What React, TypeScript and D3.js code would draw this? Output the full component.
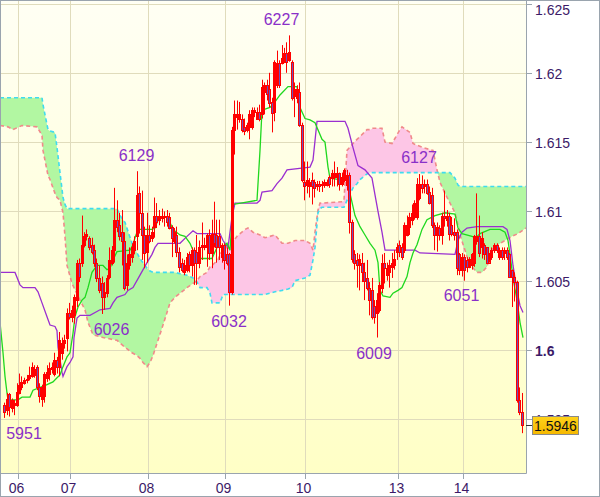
import React from 'react';
import * as d3 from 'd3';

// ---------- DATA ----------
const opens = [
1.5960,1.5957,1.5968,1.5958,1.5960,1.5960,1.5969,1.5973,1.5976,1.5978,
1.5980,1.5981,1.5982,1.5988,1.5973,1.5965,1.5967,1.5980,1.5983,1.5986,
1.5983,1.5993,1.5988,1.5998,1.6005,1.6009,1.6027,1.6024,1.6025,1.6036,
1.6063,1.6063,1.6076,1.6082,1.6081,1.6076,1.6072,1.6063,1.6052,1.6048,
1.6038,1.6041,1.6053,1.6063,1.6072,1.6094,1.6090,1.6085,1.6079,1.6047,
1.6061,1.6067,1.6072,1.6082,1.6113,1.6099,1.6083,1.6071,1.6083,1.6081,
1.6089,1.6097,1.6094,1.6095,1.6096,1.6097,1.6096,1.6089,1.6079,1.6083,
1.6071,1.6063,1.6056,1.6058,1.6069,1.6061,1.6072,1.6071,1.6063,1.6074,
1.6074,1.6074,1.6083,1.6070,1.6084,1.6083,1.6082,1.6067,1.6076,1.6069,
1.6069,1.6042,1.6159,1.6168,1.6167,1.6167,1.6161,1.6159,1.6161,1.6161,
1.6172,1.6167,1.6172,1.6170,1.6186,1.6191,1.6188,1.6179,1.6172,1.6191,
1.6207,1.6207,1.6209,1.6214,1.6209,1.6208,1.6183,1.6182,1.6186,1.6162,
1.6121,1.6119,1.6118,1.6123,1.6121,1.6118,1.6120,1.6119,1.6119,1.6119,
1.6125,1.6124,1.6125,1.6125,1.6128,1.6120,1.6123,1.6119,1.6126,1.6092,
1.6069,1.6065,1.6061,1.6063,1.6056,1.6052,1.6045,1.6043,1.6032,1.6027,
1.6029,1.6045,1.6063,1.6054,1.6056,1.6060,1.6061,1.6071,1.6076,1.6074,
1.6072,1.6083,1.6089,1.6094,1.6096,1.6096,1.6110,1.6120,1.6118,1.6120,
1.6114,1.6112,1.6090,1.6083,1.6088,1.6083,1.6097,1.6094,1.6097,1.6090,
1.6085,1.6085,1.6069,1.6058,1.6067,1.6065,1.6060,1.6061,1.6063,1.6079,
1.6082,1.6074,1.6076,1.6074,1.6063,1.6067,1.6072,1.6076,1.6067,1.6072,
1.6070,1.6072,1.6069,1.6058,1.6053,1.6049,1.5964,1.5955];

const highs = [
1.5962,1.5969,1.5969,1.5965,1.5964,1.5976,1.5983,1.5981,1.5980,1.5982,
1.5988,1.5991,1.5989,1.5989,1.5976,1.5975,1.5984,1.5989,1.5991,1.5991,
1.5998,1.5995,1.6013,1.6009,1.6011,1.6030,1.6034,1.6032,1.6040,1.6065,
1.6066,1.6097,1.6085,1.6087,1.6082,1.6081,1.6076,1.6066,1.6061,1.6053,
1.6049,1.6054,1.6074,1.6075,1.6117,1.6108,1.6099,1.6101,1.6085,1.6069,
1.6074,1.6077,1.6082,1.6129,1.6118,1.6115,1.6089,1.6099,1.6090,1.6089,
1.6110,1.6106,1.6101,1.6102,1.6100,1.6101,1.6099,1.6090,1.6088,1.6089,
1.6074,1.6066,1.6065,1.6070,1.6071,1.6074,1.6074,1.6083,1.6079,1.6092,
1.6081,1.6084,1.6087,1.6094,1.6107,1.6094,1.6094,1.6077,1.6077,1.6074,
1.6070,1.6161,1.6180,1.6180,1.6179,1.6170,1.6167,1.6164,1.6173,1.6175,
1.6175,1.6175,1.6177,1.6195,1.6193,1.6195,1.6200,1.6182,1.6209,1.6216,
1.6209,1.6220,1.6218,1.6222,1.6227,1.6209,1.6193,1.6191,1.6193,1.6164,
1.6136,1.6136,1.6124,1.6128,1.6123,1.6122,1.6122,1.6122,1.6123,1.6123,
1.6126,1.6130,1.6136,1.6132,1.6128,1.6128,1.6131,1.6130,1.6128,1.6094,
1.6072,1.6070,1.6069,1.6070,1.6063,1.6065,1.6049,1.6052,1.6036,1.6041,
1.6049,1.6069,1.6070,1.6063,1.6065,1.6070,1.6072,1.6077,1.6079,1.6077,
1.6092,1.6097,1.6099,1.6105,1.6108,1.6124,1.6127,1.6126,1.6123,1.6123,
1.6118,1.6117,1.6092,1.6092,1.6090,1.6099,1.6115,1.6101,1.6099,1.6096,
1.6095,1.6087,1.6070,1.6070,1.6069,1.6067,1.6067,1.6070,1.6083,1.6113,
1.6097,1.6085,1.6077,1.6074,1.6070,1.6074,1.6077,1.6077,1.6074,1.6074,
1.6074,1.6074,1.6070,1.6058,1.6056,1.6050,1.5973,1.5969];

const lows = [
1.5951,1.5953,1.5952,1.5955,1.5953,1.5959,1.5968,1.5971,1.5975,1.5976,
1.5978,1.5980,1.5980,1.5971,1.5962,1.5959,1.5962,1.5977,1.5978,1.5983,
1.5981,1.5983,1.5981,1.5993,1.6001,1.5999,1.6022,1.6020,1.6019,1.6031,
1.6049,1.6060,1.6074,1.6079,1.6072,1.6069,1.6060,1.6049,1.6041,1.6026,
1.6029,1.6038,1.6051,1.6061,1.6063,1.6085,1.6079,1.6061,1.6043,1.6043,
1.6058,1.6063,1.6069,1.6072,1.6084,1.6065,1.6059,1.6063,1.6077,1.6078,
1.6081,1.6088,1.6090,1.6092,1.6089,1.6089,1.6087,1.6067,1.6077,1.6067,
1.6056,1.6056,1.6054,1.6056,1.6056,1.6053,1.6047,1.6047,1.6059,1.6065,
1.6072,1.6060,1.6065,1.6059,1.6074,1.6063,1.6065,1.6063,1.6058,1.6061,
1.6032,1.6040,1.6141,1.6159,1.6164,1.6157,1.6155,1.6157,1.6152,1.6159,
1.6168,1.6166,1.6165,1.6167,1.6170,1.6180,1.6175,1.6157,1.6165,1.6189,
1.6189,1.6206,1.6207,1.6200,1.6208,1.6180,1.6168,1.6178,1.6161,1.6121,
1.6108,1.6113,1.6110,1.6105,1.6110,1.6115,1.6114,1.6114,1.6117,1.6118,
1.6117,1.6118,1.6118,1.6118,1.6115,1.6118,1.6121,1.6115,1.6084,1.6063,
1.6058,1.6045,1.6043,1.6049,1.6036,1.6043,1.6025,1.6022,1.6019,1.6009,
1.6027,1.6041,1.6048,1.6050,1.6045,1.6052,1.6058,1.6065,1.6067,1.6065,
1.6070,1.6082,1.6083,1.6090,1.6094,1.6094,1.6108,1.6113,1.6113,1.6112,
1.6105,1.6088,1.6072,1.6071,1.6079,1.6076,1.6089,1.6089,1.6079,1.6082,
1.6079,1.6054,1.6054,1.6053,1.6050,1.6056,1.6059,1.6058,1.6060,1.6076,
1.6067,1.6066,1.6065,1.6063,1.6063,1.6065,1.6070,1.6070,1.6065,1.6065,
1.6065,1.6065,1.6052,1.6031,1.6035,1.5962,1.5953,1.5940];

const closes = [
1.5955,1.5965,1.5959,1.5964,1.5962,1.5970,1.5975,1.5977,1.5978,1.5979,
1.5982,1.5988,1.5986,1.5973,1.5967,1.5973,1.5983,1.5984,1.5987,1.5988,
1.5993,1.5988,1.6007,1.6005,1.6007,1.6027,1.6024,1.6029,1.6038,1.6063,
1.6053,1.6076,1.6082,1.6084,1.6074,1.6071,1.6063,1.6052,1.6043,1.6038,
1.6042,1.6052,1.6065,1.6072,1.6094,1.6089,1.6082,1.6079,1.6045,1.6063,
1.6069,1.6074,1.6079,1.6112,1.6099,1.6083,1.6070,1.6083,1.6079,1.6085,
1.6097,1.6092,1.6097,1.6097,1.6097,1.6092,1.6088,1.6081,1.6085,1.6071,
1.6060,1.6058,1.6061,1.6067,1.6061,1.6072,1.6063,1.6063,1.6074,1.6076,
1.6076,1.6083,1.6070,1.6084,1.6077,1.6074,1.6074,1.6076,1.6065,1.6063,
1.6042,1.6159,1.6170,1.6170,1.6170,1.6159,1.6158,1.6162,1.6170,1.6173,
1.6173,1.6172,1.6167,1.6190,1.6191,1.6185,1.6178,1.6171,1.6208,1.6207,
1.6191,1.6211,1.6214,1.6208,1.6215,1.6182,1.6188,1.6188,1.6162,1.6123,
1.6118,1.6123,1.6121,1.6118,1.6117,1.6120,1.6118,1.6120,1.6121,1.6121,
1.6120,1.6128,1.6128,1.6128,1.6120,1.6125,1.6130,1.6126,1.6092,1.6066,
1.6063,1.6061,1.6066,1.6056,1.6050,1.6045,1.6036,1.6024,1.6024,1.6036,
1.6047,1.6063,1.6059,1.6059,1.6061,1.6063,1.6066,1.6074,1.6071,1.6067,
1.6090,1.6090,1.6096,1.6099,1.6106,1.6120,1.6120,1.6117,1.6120,1.6113,
1.6106,1.6090,1.6083,1.6089,1.6083,1.6097,1.6095,1.6097,1.6084,1.6084,
1.6083,1.6059,1.6058,1.6067,1.6058,1.6060,1.6066,1.6069,1.6082,1.6082,
1.6070,1.6081,1.6069,1.6063,1.6069,1.6072,1.6076,1.6072,1.6072,1.6067,
1.6072,1.6067,1.6053,1.6053,1.6049,1.5964,1.5955,1.5946];

// [bar index, Senkou Span A, Senkou Span B]
const senkou: [number, number, number][] = [
[-1.6,1.6182,1.6162],[1.6,1.6182,1.6161],[3.6,1.6182,1.6159],[7.2,1.6182,1.6162],[13.2,1.6182,1.6161],
[15.2,1.6182,1.6155],[15.6,1.6177,1.6144],[17.6,1.6159,1.6126],[18.4,1.6158,1.6123],[20.4,1.6157,1.6113],
[21.2,1.6146,1.6110],[22.4,1.6128,1.6108],[23.6,1.6110,1.6099],[24.4,1.6105,1.6082],[25.2,1.6102,1.6061],
[27.2,1.6102,1.6048],[30.4,1.6102,1.6036],[32.4,1.6102,1.6029],[33.6,1.6102,1.6020],[35.6,1.6102,1.6011],
[39.6,1.6102,1.6009],[45.2,1.6102,1.6007],[46.4,1.6097,1.6005],[48.4,1.6092,1.6002],[51.2,1.6077,1.5998],
[53.2,1.6070,1.5996],[54.4,1.6066,1.5994],[55.6,1.6063,1.5991],[57.2,1.6059,1.5988],[58.4,1.6057,1.5991],
[59.6,1.6056,1.5996],[61.6,1.6056,1.6007],[63.6,1.6056,1.6018],[66.4,1.6056,1.6034],[68.4,1.6056,1.6038],
[70.4,1.6055,1.6041],[73.2,1.6054,1.6045],[75.6,1.6052,1.6048],[77.2,1.6049,1.6050],[78.4,1.6045,1.6053],
[81.2,1.6045,1.6056],[82.4,1.6041,1.6060],[83.2,1.6034,1.6061],[85.6,1.6034,1.6065],[86.4,1.6034,1.6069],
[87.6,1.6040,1.6072],[91.2,1.6040,1.6077],[93.2,1.6040,1.6082],[96.4,1.6040,1.6087],[97.6,1.6040,1.6088],
[99.6,1.6040,1.6085],[102.4,1.6040,1.6083],[104.4,1.6040,1.6081],[108.4,1.6042,1.6083],[111.2,1.6043,1.6077],
[113.6,1.6044,1.6077],[115.2,1.6045,1.6078],[116.4,1.6050,1.6079],[120.4,1.6052,1.6079],[122.4,1.6054,1.6077],
[123.6,1.6065,1.6072],[124.4,1.6074,1.6085],[125.6,1.6099,1.6101],[126.4,1.6102,1.6106],[127.2,1.6103,1.6106],
[135.6,1.6103,1.6107],[136,1.6103,1.6108],[137.2,1.6108,1.6144],[139.6,1.6117,1.6149],[141.2,1.6120,1.6152],
[142.4,1.6123,1.6154],[145.2,1.6127,1.6159],[146.4,1.6128,1.6159],[147.6,1.6128,1.6160],[151.2,1.6128,1.6160],
[152.4,1.6128,1.6150],[155.2,1.6128,1.6149],[158.4,1.6128,1.6159],[159.2,1.6128,1.6161],[162.4,1.6128,1.6157],
[163.6,1.6128,1.6149],[167.6,1.6128,1.6146],[171.6,1.6128,1.6144],[173.2,1.6128,1.6130],[174.4,1.6128,1.6121],
[176.4,1.6128,1.6113],[178.4,1.6128,1.6106],[180.4,1.6124,1.6099],[181.6,1.6119,1.6090],[182.4,1.6118,1.6083],
[184.4,1.6118,1.6072],[185.6,1.6118,1.6065],[187.2,1.6118,1.6060],[189.2,1.6118,1.6056],[191.2,1.6118,1.6056],
[193.2,1.6118,1.6060],[194.4,1.6118,1.6069],[195.6,1.6118,1.6074],[197.6,1.6118,1.6076],[200.4,1.6118,1.6079],
[203.2,1.6118,1.6082],[205.6,1.6118,1.6084],[208.8,1.6118,1.6088]];

// [bar index, Tenkan-sen]
const tenkan: [number, number][] = [
[-1.6,1.6020],[-0.4,1.5998],[0.4,1.5981],[1.2,1.5969],[1.6,1.5964],[5.6,1.5964],[7.2,1.5966],[10.4,1.5966],
[11.6,1.5971],[17.2,1.5975],[19.6,1.5977],[21.2,1.5980],[22.4,1.5982],[23.6,1.5988],[25.2,1.5995],[26.4,1.5998],
[27.6,1.6012],[28.4,1.6024],[29.6,1.6031],[31.2,1.6036],[32.4,1.6038],[33.6,1.6045],[35.2,1.6056],[37.2,1.6061],
[39.6,1.6061],[41.2,1.6058],[42.4,1.6059],[43.6,1.6065],[45.2,1.6071],[50.4,1.6072],[51.6,1.6076],[52.4,1.6081],
[53.6,1.6087],[59.2,1.6087],[60.4,1.6088],[61.2,1.6092],[62.4,1.6096],[65.2,1.6096],[66.4,1.6092],[67.6,1.6087],
[70.4,1.6083],[72.4,1.6082],[74.4,1.6077],[75.6,1.6072],[77.2,1.6066],[83.2,1.6066],[85.2,1.6074],[87.6,1.6074],
[89.2,1.6077],[90.4,1.6072],[91.6,1.6105],[101.2,1.6108],[102.4,1.6144],[103.2,1.6173],[106.4,1.6175],[108.4,1.6179],
[110.4,1.6184],[113.6,1.6190],[117.2,1.6190],[118.4,1.6175],[120.4,1.6167],[122.4,1.6166],[124.4,1.6164],[127.2,1.6152],
[128.4,1.6150],[129.6,1.6132],[130.4,1.6124],[134.4,1.6123],[137.2,1.6123],[138.4,1.6113],[140.4,1.6097],[142.4,1.6089],
[144.4,1.6083],[146.4,1.6077],[148.4,1.6072],[149.6,1.6063],[150.4,1.6043],[151.6,1.6039],[154.4,1.6038],[155.6,1.6041],
[157.6,1.6043],[159.2,1.6045],[161.2,1.6053],[162.4,1.6063],[163.6,1.6070],[165.2,1.6076],[167.2,1.6087],[169.2,1.6094],
[172.4,1.6097],[176.4,1.6099],[180.4,1.6098],[181.6,1.6088],[183.2,1.6084],[187.2,1.6082],[188.8,1.6081],[190.4,1.6084],
[194.4,1.6087],[198.4,1.6087],[200.4,1.6085],[201.6,1.6079],[202.4,1.6069],[203.6,1.6052],[205.2,1.6036],[206.4,1.6020],
[207.6,1.6009]];

// [bar index, Kijun-sen]
const kijun: [number, number][] = [
[-1.6,1.6056],[4.4,1.6056],[6.4,1.6047],[7.6,1.6045],[12.4,1.6045],[13.6,1.6042],[15.2,1.6034],[17.2,1.6024],
[18.4,1.6018],[20.4,1.6017],[21.2,1.6014],[21.6,1.6002],[22.4,1.5993],[23.2,1.5984],[23.6,1.5981],[25.2,1.5988],
[26.4,1.5991],[27.6,1.5995],[28.0,1.6009],[29.2,1.6023],[30.4,1.6025],[34.4,1.6025],[38.4,1.6029],[42.4,1.6030],
[43.6,1.6034],[45.2,1.6038],[48.4,1.6040],[49.6,1.6043],[51.6,1.6045],[54.4,1.6054],[57.2,1.6063],[59.2,1.6069],
[60.4,1.6074],[61.6,1.6077],[70.4,1.6077],[73.2,1.6082],[75.6,1.6086],[77.2,1.6084],[86.4,1.6084],[87.6,1.6079],
[89.6,1.6074],[91.2,1.6096],[92.4,1.6106],[101.2,1.6106],[102.4,1.6108],[103.2,1.6114],[107.2,1.6115],[109.2,1.6120],
[111.2,1.6124],[113.2,1.6130],[122.4,1.6132],[123.6,1.6137],[125.2,1.6165],[136.4,1.6165],[137.6,1.6160],[139.6,1.6146],
[141.6,1.6133],[144.4,1.6130],[147.2,1.6124],[148.4,1.6112],[149.6,1.6100],[151.2,1.6085],[152.4,1.6072],[164.4,1.6072],
[166.4,1.6070],[180.4,1.6069],[181.6,1.6079],[183.2,1.6085],[185.2,1.6088],[189.2,1.6089],[199.6,1.6089],[201.2,1.6087],
[202.4,1.6079],[203.6,1.6061],[205.2,1.6043],[206.4,1.6032],[207.6,1.6027]];

const yTicks = [1.595, 1.6, 1.605, 1.61, 1.615, 1.62, 1.625];
const yTickLabels = ['1.595', '1.6', '1.605', '1.61', '1.615', '1.62', '1.625'];
const dayTickIdx = [5.5, 26.5, 57.5, 88.5, 120.5, 157.5, 183.5];
const dayLabels = ['06', '07', '08', '09', '10', '13', '14'];

const annText = ['6227', '6129', '6127', '6026', '6032', '6009', '6051', '5951'];
const annIdx = [111, 53, 166, 43, 90, 148, 183, 8];
const annPrice = [1.6227, 1.6129, 1.6127, 1.6026, 1.6032, 1.6009, 1.6051, 1.5951];
const annAbove = [true, true, true, false, false, false, false, false];
const lastPrice = 1.5946;

// ---------- CHART ----------
const W = 600, H = 497;
const PR = 526, PB = 473;
const FONT = "'Liberation Sans', Arial, sans-serif";
const AXIS_TXT = '#3c1a68';
const FRAME = '#9aa4ae';

type CP = { i: number; a: number; b: number };

export default function App() {
  const x = d3.scaleLinear().domain([0, opens.length - 1]).range([4, 521.5]);
  const y = d3.scaleLinear().domain([1.595, 1.625]).range([419.3, 3.5]);

  const pts: CP[] = [];
  senkou.forEach(([i, a, b], k) => {
    if (k > 0) {
      const [pi, pa, pb] = senkou[k - 1];
      const d0 = pa - pb, d1 = a - b;
      if (d0 * d1 < 0) {
        const t = d0 / (d0 - d1);
        const ca = pa + t * (a - pa);
        pts.push({ i: pi + t * (i - pi), a: ca, b: ca });
      }
    }
    pts.push({ i, a, b });
  });

  const greenArea = d3.area<CP>().x(d => x(d.i)).y0(d => y(d.b)).y1(d => y(Math.max(d.a, d.b)))(pts) || '';
  const pinkArea = d3.area<CP>().x(d => x(d.i)).y0(d => y(d.a)).y1(d => y(Math.max(d.a, d.b)))(pts) || '';
  const lineA = d3.line<CP>().x(d => x(d.i)).y(d => y(d.a))(pts) || '';
  const lineB = d3.line<CP>().x(d => x(d.i)).y(d => y(d.b))(pts) || '';
  const ln = d3.line<[number, number]>().x(d => x(d[0])).y(d => y(d[1]));
  const tenkanPath = ln(tenkan) || '';
  const kijunPath = ln(kijun) || '';

  const lastY = y(lastPrice);

  return (
    <svg width={W} height={H} style={{ position: 'absolute', left: 0, top: 0, fontFamily: FONT }}>
      <defs>
        <linearGradient id="bg" x1="0" y1="0" x2="0" y2="1">
          <stop offset="0" stopColor="#fffff4" />
          <stop offset="1" stopColor="#ffffc6" />
        </linearGradient>
        <linearGradient id="gold" x1="0" y1="0" x2="0" y2="1">
          <stop offset="0" stopColor="#ffd21a" />
          <stop offset="1" stopColor="#f5b800" />
        </linearGradient>
        <clipPath id="plot"><rect x={0} y={0} width={PR} height={PB} /></clipPath>
      </defs>
      <rect x={0} y={0} width={W} height={H} fill="#ffffff" />
      <rect x={0} y={0} width={PR} height={PB} fill="url(#bg)" />

      {/* grid */}
      <g stroke="#e0dcbc" strokeWidth={1}>
        {yTicks.map((t, k) => (
          <line key={'gy' + k} x1={0} x2={PR} y1={Math.round(y(t)) + 0.5} y2={Math.round(y(t)) + 0.5} />
        ))}
        {dayTickIdx.map((t, k) => (
          <line key={'gx' + k} x1={Math.round(x(t)) + 0.5} x2={Math.round(x(t)) + 0.5} y1={0} y2={PB} />
        ))}
      </g>

      <g clipPath="url(#plot)">
        {/* cloud */}
        <path d={greenArea} fill="#b2f7a2" />
        <path d={pinkArea} fill="#fdc6e6" />
        <path d={lineB} fill="none" stroke="#f08a8a" strokeWidth={1.6} strokeDasharray="4,3" />
        <path d={lineA} fill="none" stroke="#3fdcef" strokeWidth={1.6} strokeDasharray="4,3" />
        {/* lines */}
        <path d={kijunPath} fill="none" stroke="#9a2fd0" strokeWidth={1.3} />
        <path d={tenkanPath} fill="none" stroke="#1fd81f" strokeWidth={1.3} />
        {/* candles */}
        {opens.map((o, i) => {
          const c = closes[i];
          const cx = Math.round(x(i)) + 0.5;
          const top = Math.round(y(Math.max(o, c))) + 0.5;
          const bot = Math.round(y(Math.min(o, c))) + 0.5;
          const bear = c < o;
          return (
            <g key={'c' + i}>
              <line x1={cx} x2={cx} y1={y(highs[i])} y2={y(lows[i])} stroke="#ff0000" strokeWidth={1} />
              <rect x={cx - 1} y={top} width={2} height={Math.max(1, bot - top)}
                fill={bear ? '#6e4fb9' : 'none'} stroke="#ff0000" strokeWidth={1} />
            </g>
          );
        })}
      </g>

      {/* annotations */}
      {annText.map((t, k) => (
        <text key={'a' + k} x={x(annIdx[k])} y={y(annPrice[k]) + (annAbove[k] ? -16 : 16)}
          textAnchor="middle" dominantBaseline="central" fontSize={16} fill="#8a30c8">{t}</text>
      ))}

      {/* frame */}
      <line x1={PR + 0.5} x2={PR + 0.5} y1={0} y2={PB + 0.5} stroke={FRAME} />
      <line x1={0} x2={PR + 0.5} y1={PB + 0.5} y2={PB + 0.5} stroke={FRAME} />

      {/* y axis */}
      {yTicks.map((t, k) => {
        const ty = Math.round(y(t)) + 0.5;
        return (
          <g key={'yt' + k}>
            <line x1={PR} x2={PR + 6} y1={ty} y2={ty} stroke={FRAME} />
            <text x={PR + 9} y={Math.max(ty, 10)} dominantBaseline="central" fontSize={14}
              fontWeight={t === 1.6 ? 'bold' : 'normal'} fill={AXIS_TXT}>{yTickLabels[k]}</text>
          </g>
        );
      })}

      {/* x axis */}
      {dayTickIdx.map((t, k) => {
        const tx = Math.round(x(t)) + 0.5;
        return (
          <g key={'xt' + k}>
            <line x1={tx} x2={tx} y1={PB} y2={PB + 6} stroke={FRAME} />
            <text x={tx - 2} y={493} textAnchor="middle" fontSize={14} fill={AXIS_TXT}>{dayLabels[k]}</text>
          </g>
        );
      })}

      {/* last price label */}
      <line x1={PR} x2={PR + 6} y1={Math.round(lastY) + 0.5} y2={Math.round(lastY) + 0.5} stroke="#333" />
      <rect x={532.5} y={Math.round(lastY) - 8.5} width={46} height={18} fill="url(#gold)" stroke="#8a8a8a" />
      <text x={555.5} y={Math.round(lastY) + 1} textAnchor="middle" dominantBaseline="central" fontSize={14} fill="#111">
        {lastPrice.toFixed(4)}
      </text>

      <rect x={0.5} y={0.5} width={W - 1} height={H - 1} fill="none" stroke={FRAME} />
    </svg>
  );
}
